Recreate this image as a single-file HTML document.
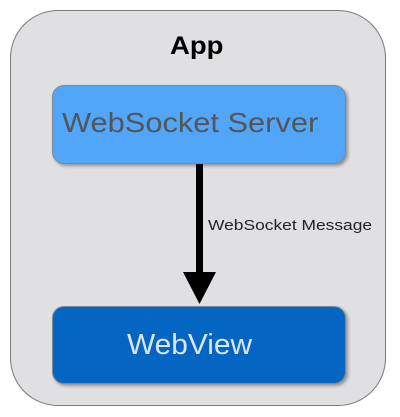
<!DOCTYPE html>
<html><head><style>
body{margin:0;width:400px;height:417px;background:#fff;position:relative;overflow:hidden;font-family:"Liberation Sans",sans-serif}
.outer{position:absolute;left:10px;top:10px;width:376px;height:396px;box-sizing:border-box;border:1.5px solid #7a7a7a;border-radius:48px;background:#e0e0e2}
.b{position:absolute;left:52px;width:294px;box-sizing:border-box;border-radius:12px;border:1.5px solid #7f8a96;box-shadow:2px 2px 3px rgba(0,0,0,.35)}
.t{position:absolute;white-space:nowrap;transform-origin:0 0}
</style></head><body>
<div class="outer"></div>
<div class="t" style="left:170px;top:32px;font-weight:bold;font-size:25px;color:#000;transform:scaleX(1.1)">App</div>
<div class="b" style="top:85px;height:79px;background:#51a6f9"></div>
<div class="t" style="left:62px;top:107px;font-size:28px;color:#555;transform:scaleX(1.1)">WebSocket Server</div>
<div style="position:absolute;left:196px;top:164px;width:7px;height:110px;background:#000"></div>
<svg style="position:absolute;left:0;top:0" width="400" height="417"><polygon points="183,272 216,272 199.5,304" fill="#000"/></svg>
<div class="t" style="left:208px;top:217px;font-size:15px;color:#222;transform:scaleX(1.16)">WebSocket Message</div>
<div class="b" style="top:306px;height:78px;background:#0565c2"></div>
<div class="t" style="left:127px;top:329px;font-size:29px;color:#dde6f0;transform:scaleX(1.03)">WebView</div>
</body></html>
